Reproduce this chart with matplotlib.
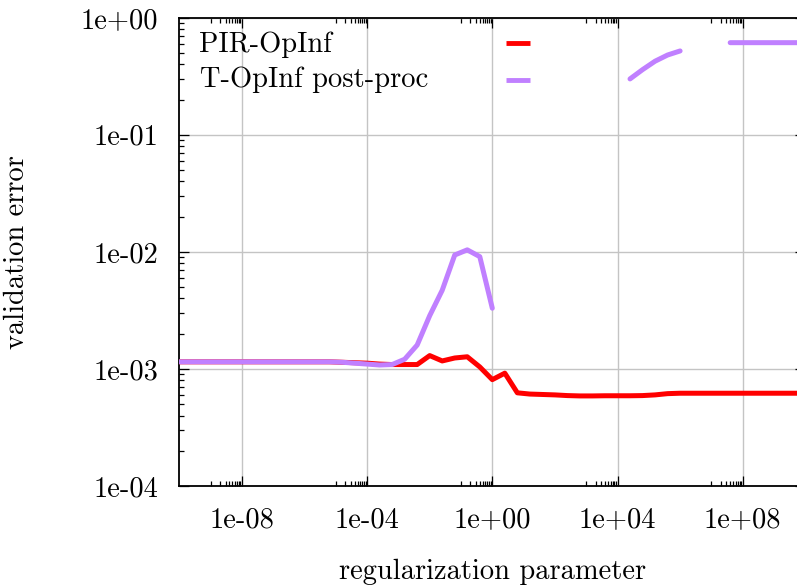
import numpy as np
import matplotlib
matplotlib.use("Agg")
import matplotlib.pyplot as plt
from matplotlib.ticker import FixedLocator, NullFormatter

plt.rcParams['font.family'] = ['cmr10', 'DejaVu Serif']
plt.rcParams['axes.unicode_minus'] = False

# ---- data ----
reg_param = np.logspace(-10, 10, 51)

pir_opinf = [
    1.15e-3, 1.15e-3, 1.15e-3, 1.15e-3, 1.15e-3, 1.15e-3, 1.15e-3, 1.15e-3,
    1.15e-3, 1.15e-3, 1.15e-3, 1.15e-3, 1.15e-3, 1.14e-3, 1.13e-3, 1.12e-3,
    1.10e-3, 1.09e-3, 1.09e-3, 1.09e-3, 1.30e-3, 1.17e-3, 1.24e-3, 1.27e-3,
    1.04e-3, 8.1e-4, 9.2e-4, 6.25e-4, 6.1e-4, 6.05e-4, 6.0e-4, 5.92e-4,
    5.88e-4, 5.88e-4, 5.9e-4, 5.9e-4, 5.9e-4, 5.92e-4, 6.0e-4, 6.15e-4,
    6.2e-4, 6.2e-4, 6.2e-4, 6.2e-4, 6.2e-4, 6.2e-4, 6.2e-4, 6.2e-4,
    6.2e-4, 6.2e-4, 6.2e-4,
]

nan = np.nan
t_opinf_post = [
    1.15e-3, 1.15e-3, 1.15e-3, 1.15e-3, 1.15e-3, 1.15e-3, 1.15e-3, 1.15e-3,
    1.15e-3, 1.15e-3, 1.15e-3, 1.15e-3, 1.15e-3, 1.14e-3, 1.12e-3, 1.10e-3,
    1.08e-3, 1.09e-3, 1.21e-3, 1.6e-3, 2.85e-3, 4.7e-3, 9.4e-3, 1.04e-2,
    9.1e-3, 3.3e-3, nan, nan, nan, nan, nan, nan,
    nan, nan, nan, nan, 0.30, 0.36, 0.425, 0.48,
    0.52, nan, nan, nan, 0.612, 0.612, 0.612, 0.612,
    0.612, 0.612, 0.612,
]

labels = ["PIR-OpInf", "T-OpInf post-proc"]
colors = ["#ff0000", "#c080ff"]

x_major = [1e-8, 1e-4, 1e0, 1e4, 1e8]
x_major_labels = ["1e-08", "1e-04", "1e+00", "1e+04", "1e+08"]
y_major = [1e-4, 1e-3, 1e-2, 1e-1, 1e0]
y_major_labels = ["1e-04", "1e-03", "1e-02", "1e-01", "1e+00"]

FS = 20.5

# ---- figure ----
W, H = 797, 588
fig = plt.figure(figsize=(W / 100, H / 100), dpi=100)
left_px, right_px, top_px, bottom_px = 179.3, 805.3, 17.7, 486.0
ax = fig.add_axes([left_px / W, (H - bottom_px) / H,
                   (right_px - left_px) / W, (bottom_px - top_px) / H])

for series, col in zip([pir_opinf, t_opinf_post], colors):
    ax.plot(reg_param, series, color=col, lw=3.6,
            solid_capstyle='round', solid_joinstyle='round', zorder=3)

ax.set_xscale('log')
ax.set_yscale('log')
ax.set_xlim(1e-10, 1e10)
ax.set_ylim(1e-4, 1e0)

ax.xaxis.set_major_locator(FixedLocator(x_major))
ax.set_xticklabels(x_major_labels)
x_minor = [k * m / 10 for m in x_major for k in range(1, 10)]
ax.xaxis.set_minor_locator(FixedLocator(x_minor))
ax.xaxis.set_minor_formatter(NullFormatter())

ax.yaxis.set_major_locator(FixedLocator(y_major))
ax.set_yticklabels(y_major_labels)
y_minor = [k * m for m in y_major[:-1] for k in range(2, 10)]
ax.yaxis.set_minor_locator(FixedLocator(y_minor))
ax.yaxis.set_minor_formatter(NullFormatter())

ax.tick_params(which='both', direction='in', top=True, right=True,
               color='black', width=0.9, labelsize=FS)
ax.tick_params(which='major', length=7)
ax.tick_params(which='minor', length=3.8)
ax.tick_params(axis='x', which='major', pad=15)
ax.tick_params(axis='y', which='major', pad=15)

ax.grid(True, which='major', color='#c4c4c4', lw=1.0, zorder=0)
ax.set_axisbelow(True)
for s in ax.spines.values():
    s.set_linewidth(1.3)

ax.set_xlabel("regularization parameter", fontsize=FS)
ax.set_ylabel("validation error", fontsize=FS)
ax.xaxis.set_label_coords(0.5, (bottom_px - 572) / (bottom_px - top_px))
ax.xaxis.label.set_va('center')
ax.yaxis.set_label_coords((17 - left_px) / (right_px - left_px), 0.5)
ax.yaxis.label.set_va('center')

# ---- legend (gnuplot style key) ----
def ax_x(px):
    return (px - left_px) / (right_px - left_px)

def ax_y(py):
    return (bottom_px - py) / (bottom_px - top_px)

key_text_baselines = [51.7, 87.3]
key_sample_y = [43.3, 80.0]
for lab, col, tb, sy in zip(labels, colors, key_text_baselines, key_sample_y):
    ax.text(ax_x(199.5), ax_y(tb), lab, transform=ax.transAxes,
            fontsize=FS, ha='left', va='baseline')
    ax.plot([ax_x(506), ax_x(530)], [ax_y(sy), ax_y(sy)], color=col, lw=3.5,
            solid_capstyle='butt', transform=ax.transAxes, clip_on=False)

fig.savefig("out.png", dpi=100)
